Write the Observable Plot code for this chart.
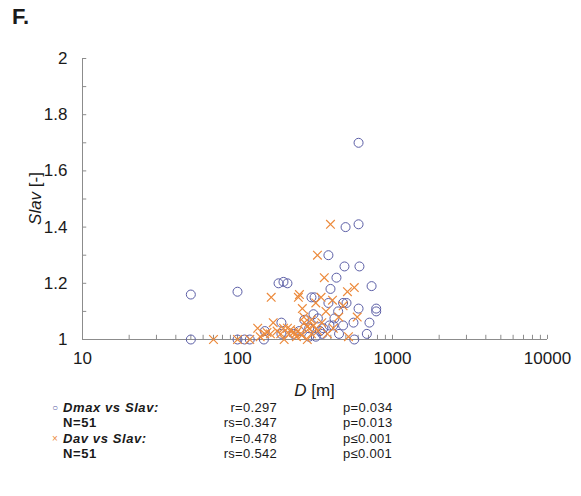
<!DOCTYPE html>
<html><head><meta charset="utf-8">
<script src="https://cdn.jsdelivr.net/npm/d3@7"></script>
<script src="https://cdn.jsdelivr.net/npm/@observablehq/plot@0.6"></script>
<style>
body{margin:0;background:#fff;font-family:"Liberation Sans",Arial,sans-serif;color:#1a1a1a}
#wrap{position:relative;width:581px;height:496px;overflow:hidden}
#title{position:absolute;left:12px;top:5px;font-weight:bold;font-size:22px;line-height:24px}
#chart{position:absolute;left:0;top:36px}
.row{position:absolute;left:0;width:581px;height:15px;font-size:13px;line-height:15px;white-space:nowrap}
.mk{position:absolute;left:52px;font-size:10px}
.c1{position:absolute;left:63px;font-weight:bold;letter-spacing:0.6px}
.c2{position:absolute;right:304px;text-align:right;letter-spacing:0.3px}
.c3{position:absolute;left:343px;letter-spacing:0.3px}
</style></head>
<body>
<div id="wrap">
  <div id="title">F.</div>
  <div id="chart"></div>
  <div id="legend"></div>
</div>
<script>
// Dmax vs Slav (circles)
const dmaxD = [50,50,100,100,111,120,148,150,184,198,210,192,192,498,604,386,490,612,435,398,733,300,314,386,480,505,604,785,785,309,330,446,422,560,710,480,392,358,353,452,683,567,290,290,604,270,250,320,230,340,415];
const dmaxS = [1.16,1.00,1.17,1.00,1.00,1.00,1.00,1.03,1.20,1.205,1.20,1.06,1.02,1.40,1.41,1.30,1.26,1.26,1.22,1.18,1.19,1.15,1.15,1.13,1.13,1.13,1.11,1.11,1.10,1.09,1.075,1.10,1.075,1.06,1.06,1.05,1.05,1.04,1.02,1.02,1.02,1.00,1.04,1.01,1.70,1.07,1.03,1.01,1.02,1.03,1.05];
// Dav vs Slav (crosses)
const davD = [70,100,165,135,150,155,170,163,198,210,230,237,247,251,398,328,363,346,410,512,567,480,262,268,592,282,290,415,520,282,245,255,260,240,140,180,190,220,215,270,300,320,372,350,330,450,300,120,200,310,380];
const davS = [1.00,1.00,1.15,1.04,1.02,1.025,1.06,1.02,1.04,1.04,1.025,1.02,1.15,1.16,1.41,1.30,1.22,1.15,1.14,1.17,1.185,1.12,1.11,1.08,1.08,1.045,1.04,1.04,1.01,1.00,1.03,1.02,1.015,1.01,1.01,1.03,1.02,1.035,1.02,1.06,1.07,1.13,1.10,1.06,1.03,1.08,1.02,1.00,1.00,1.05,1.02];

const xTickLabels = [10,100,1000,10000];
const xMinorTicks = [20,30,40,50,60,70,80,90,100,200,300,400,500,600,700,800,900,1000,2000,3000,4000,5000,6000,7000,8000,9000,10000];
const yTickLabels = [1,1.2,1.4,1.6,1.8,2];
const yMinorTicks = [1.1,1.2,1.3,1.4,1.5,1.6,1.7,1.8,1.9,2];

const legendRows = [
  {mk:"○", mkColor:"#5b5ea6", c1:"<i>Dmax vs Slav:</i>", c2:"r=0.297", c3:"p=0.034"},
  {mk:"", c1:"N=51", c2:"rs=0.347", c3:"p=0.013"},
  {mk:"×", mkColor:"#ec8a3c", c1:"<i>Dav vs Slav:</i>", c2:"r=0.478", c3:"p≤0.001"},
  {mk:"", c1:"N=51", c2:"rs=0.542", c3:"p≤0.001"}
];
const legendTops = [400,415,431,446];

const blue = "#5b5ea6", orange = "#ec8a3c", axisColor = "#8c8c8c";
const circles = dmaxD.map((d,i)=>({D:d, S:dmaxS[i]}));
const crosses = davD.map((d,i)=>({D:d, S:davS[i]}));

const chart = Plot.plot({
  width: 581, height: 362,
  marginLeft: 82, marginRight: 34, marginTop: 22, marginBottom: 59,
  x: {type: "log", domain: [10, 10000]},
  y: {domain: [1, 2]},
  style: {fontFamily: "Liberation Sans, Arial, sans-serif", fontSize: "17px", color: "#1a1a1a", background: "transparent", overflow: "visible"},
  marks: [
    Plot.ruleX(xMinorTicks, {y1: 1, y2: 1.015, stroke: axisColor}),
    Plot.ruleY(yMinorTicks, {x1: 10, x2: 10.65, stroke: axisColor}),
    Plot.ruleY([1], {stroke: axisColor}),
    Plot.ruleX([10], {stroke: axisColor}),
    Plot.axisX({ticks: xTickLabels, tickSize: 0, tickPadding: 12, tickFormat: d => String(d), label: null}),
    Plot.axisY({ticks: yTickLabels, tickSize: 0, tickPadding: 15, tickFormat: d => String(d), label: null}),
    Plot.dot(circles, {x: "D", y: "S", r: 4.5, stroke: blue, strokeWidth: 1, symbol: "circle"}),
    Plot.dot(crosses, {x: "D", y: "S", r: 4, stroke: orange, strokeWidth: 1.2, symbol: "times"})
  ]
});

const sx = chart.scale("x"), sy = chart.scale("y");
const svg = d3.select(chart);
const yMid = (sy.apply(1) + sy.apply(2)) / 2;
const yl = svg.append("text")
  .attr("transform", `translate(35,${yMid}) rotate(-90)`)
  .attr("text-anchor", "middle").attr("dy", "0.35em")
  .attr("font-size", 17).attr("fill", "#1a1a1a");
yl.append("tspan").attr("font-style", "italic").text("Slav");
yl.append("tspan").text(" [-]");
const xMid = (sx.apply(10) + sx.apply(10000)) / 2;
const xl = svg.append("text")
  .attr("x", xMid).attr("y", sy.apply(1) + 51)
  .attr("text-anchor", "middle").attr("dy", "0.35em")
  .attr("font-size", 17).attr("fill", "#1a1a1a");
xl.append("tspan").attr("font-style", "italic").text("D");
xl.append("tspan").text(" [m]");

document.getElementById("chart").appendChild(chart);

const leg = document.getElementById("legend");
legendRows.forEach((r, i) => {
  const div = document.createElement("div");
  div.className = "row";
  div.style.top = legendTops[i] + "px";
  div.innerHTML = (r.mk ? `<span class="mk" style="color:${r.mkColor}">${r.mk}</span>` : "") +
    `<span class="c1">${r.c1}</span><span class="c2">${r.c2}</span><span class="c3">${r.c3}</span>`;
  leg.appendChild(div);
});
</script>
</body></html>
